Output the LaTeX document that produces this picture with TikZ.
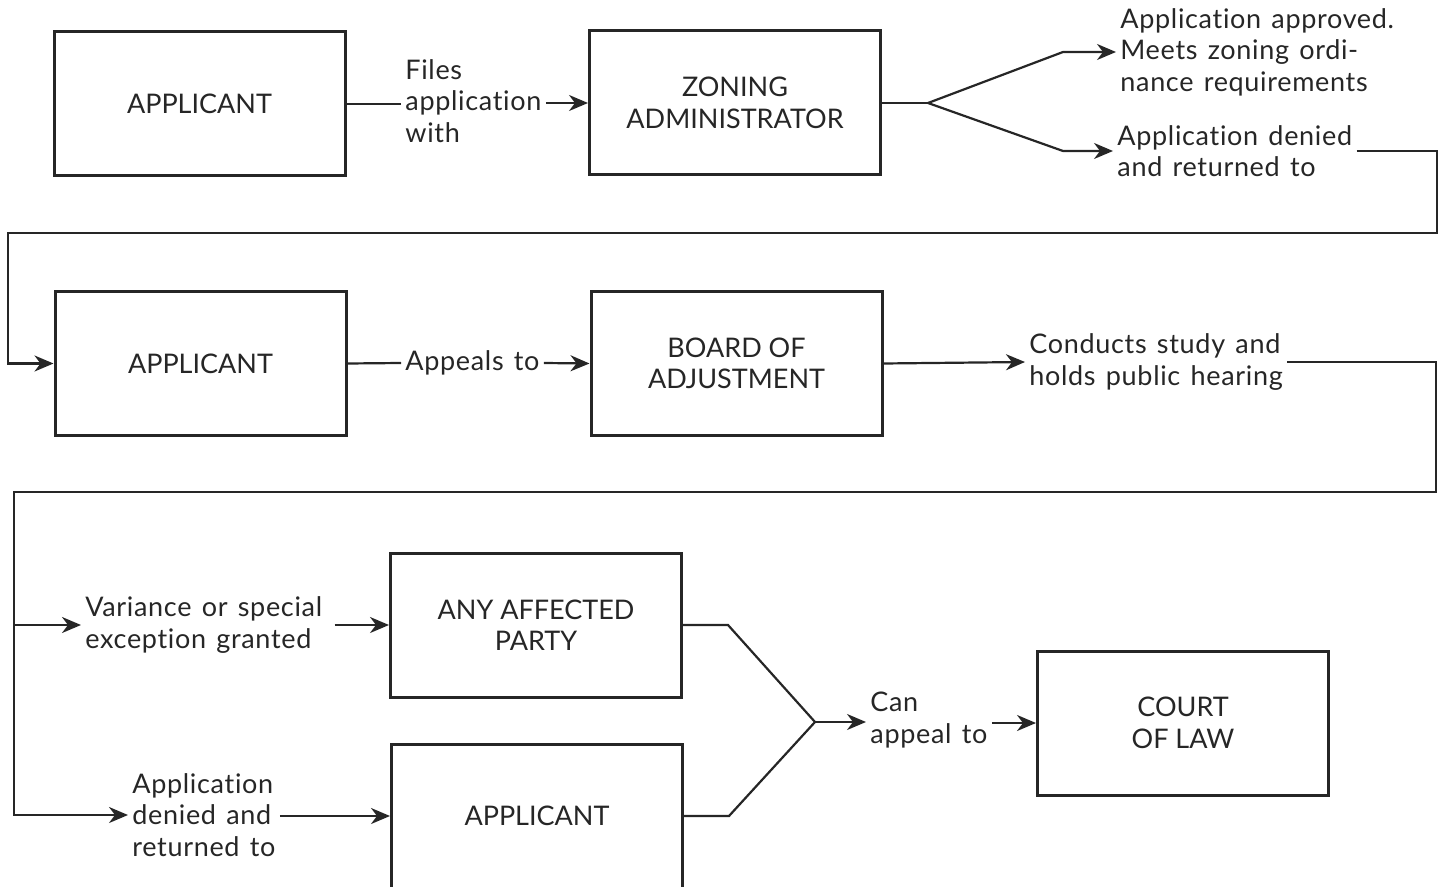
\documentclass[tikz,border=0pt]{standalone}
\usepackage{fontspec}
\setmainfont{Lato}[Ligatures=CommonOff]
\newfontfamily\notefont{Lato}[Ligatures=CommonOff, LetterSpace=2.5, WordSpace=1.35]
\usetikzlibrary{arrows.meta}
\definecolor{ink}{HTML}{262626}
\begin{document}
\begin{tikzpicture}[x=0.5pt,y=-0.5pt,
  every node/.style={text=ink, font=\fontsize{13.5}{15.75}\selectfont},
  stage/.style={draw=ink, line width=1.5pt, minimum width=145.5pt,
    minimum height=72pt, inner sep=0pt, align=center},
  note/.style={align=left, inner sep=2pt, anchor=west,
    font=\notefont\fontsize{13.5}{15.75}\selectfont},
  link/.style={draw=ink, line width=1.1pt},
  flow/.style={link, -{Stealth[length=9.5pt,width=8pt,inset=3pt]}},
]
\useasboundingbox (0,0) rectangle (1443,887);

% stages
\node[stage] (app1)  at (199.5,104)  {APPLICANT};
\node[stage] (za)    at (735,103)    {ZONING\\ADMINISTRATOR};
\node[stage] (app2)  at (200.5,363.5) {APPLICANT};
\node[stage] (board) at (736.5,363.5) {BOARD OF\\ADJUSTMENT};
\node[stage] (party) at (536,625)    {ANY AFFECTED\\PARTY};
\node[stage] (app3)  at (537,816)    {APPLICANT};
\node[stage] (court) at (1183,723)   {COURT\\OF LAW};

% transition notes
\node[note] (files)    at (401,101)  {Files\\application\\with};
\node[note] (approved) at (1116,52)  {Application approved.\\Meets zoning ordi-\\nance requirements};
\node[note] (denied)   at (1113,151) {Application denied\\and returned to};
\node[note] (appeals)  at (401,363)  {Appeals to};
\node[note] (conducts) at (1025,362) {Conducts study and\\holds public hearing};
\node[note] (variance) at (81,625)   {Variance or special\\exception granted};
\node[note] (denied2)  at (128,815)  {Application\\denied and\\returned to};
\node[note] (can)      at (866,720)  {Can\\appeal to};

% first row
\draw[link] (app1.east) -- (files.west |- app1.east);
\draw[flow] (files.east |- za.west) -- (za.west);
\coordinate (fork) at (928,103);
\draw[link] (za.east) -- (fork);
\draw[flow] (fork) -- (1063,52) -- (approved.west);
\draw[flow] (fork) -- (1063,151) -- (denied.west);
\draw[flow] (denied.east) -| (1437,233) -- (8,233) |- (app2.west);

% second row
\draw[link] (app2.east) -- (appeals.west);
\draw[flow] (appeals.east) -- (board.west);
\draw[flow] (board.east) -- (conducts.west);
\draw[flow] (conducts.east) -| (1436,492) -- (14,492) |- (denied2.west);

% third row
\coordinate (branch) at (14,625);
\draw[flow] (branch) -- (variance.west);
\draw[flow] ([xshift=4pt]variance.east) -- (party.west);
\draw[flow] (denied2.east |- app3.west) -- (app3.west);
\coordinate (merge) at (815,722);
\draw[link] (party.east) -- ++(45,0) -- (merge);
\draw[link] (app3.east) -- ++(45,0) -- (merge);
\draw[flow] (merge) -- (can.west |- merge);
\draw[flow] (can.east |- court.west) -- (court.west);
\end{tikzpicture}
\end{document}
